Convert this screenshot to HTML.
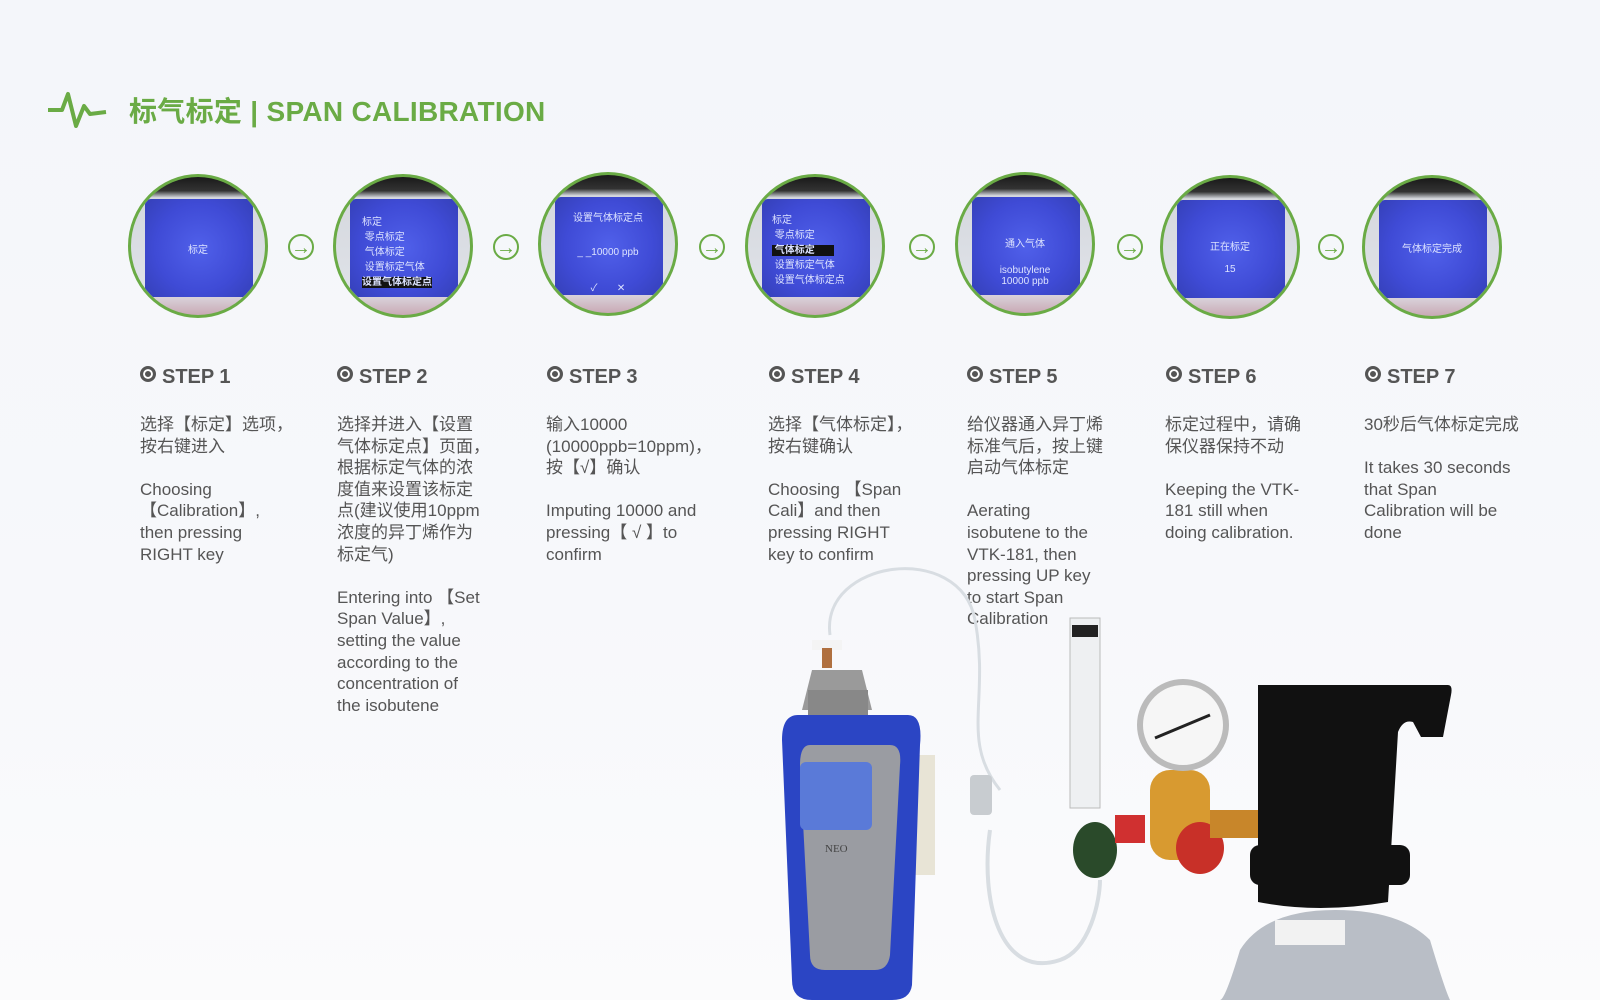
<!DOCTYPE html>
<html><head><meta charset="utf-8"><style>
body{margin:0;width:1600px;height:1000px;overflow:hidden;background:linear-gradient(180deg,#f4f6fa 0%,#f7f8fb 60%,#fbfbfc 100%);font-family:"Liberation Sans","Noto Sans CJK SC",sans-serif;position:relative}
.t{position:absolute;left:129px;top:90px;font-size:28px;font-weight:bold;color:#6aab45;letter-spacing:0.3px}
.c{position:absolute;width:140px;height:144px;border-radius:50%;border:3px solid #6aab45;background:linear-gradient(180deg,#1a1a1a 0%,#333 10%,#d5d8de 15%,#dfe2e8 82%,#c9a9b5 100%);overflow:hidden;box-sizing:border-box}
.c:before{content:"";position:absolute;left:14px;top:22px;width:108px;height:98px;border-radius:6px;background:radial-gradient(circle at 50% 50%,#5060ea 0%,#3f4bd6 60%,#3540b8 100%)}
.c span{position:absolute;left:0;right:0;text-align:center;color:#dde3ff;font-size:10px;z-index:1}
.a{position:absolute;width:26px;height:26px;border:2px solid #6aab45;border-radius:50%;color:#6aab45;font-size:20px;line-height:25px;text-align:center;box-sizing:border-box}
.s{position:absolute;top:366px;font-size:20px;font-weight:bold;color:#555}
.s:before{content:"";display:inline-block;width:10px;height:10px;border:3px solid #555;border-radius:50%;margin-right:6px;vertical-align:1px;box-shadow:inset 0 0 0 2px #fff;background:#555}
.b{position:absolute;top:414px;font-size:17px;line-height:21.6px;color:#555;width:165px}
</style></head><body>
<svg style="position:absolute;left:48px;top:90px" width="62" height="40"><polyline points="0,20 14,20 20,4 28,36 36,16 42,24 58,22" fill="none" stroke="#6aab45" stroke-width="4" stroke-linejoin="round"/></svg>
<div class="t">标气标定 | SPAN CALIBRATION</div>

<div class="c" style="left:128px;top:174px"><span style="top:64px">标定</span></div>
<div class="c" style="left:333px;top:174px"><span style="top:36px;text-align:left;left:26px">标定<br>&nbsp;零点标定<br>&nbsp;气体标定<br>&nbsp;设置标定气体<br><b style="background:#111">设置气体标定点</b></span></div>
<div class="c" style="left:538px;top:172px"><span style="top:34px">设置气体标定点</span><span style="top:72px">_ _10000 ppb</span><span style="top:104px">✓ &nbsp;&nbsp;&nbsp;&nbsp;&nbsp;&nbsp;✕</span></div>
<div class="c" style="left:745px;top:174px"><span style="top:34px;text-align:left;left:24px">标定<br>&nbsp;零点标定<br><b style="background:#111">&nbsp;气体标定&nbsp;&nbsp;&nbsp;&nbsp;&nbsp;&nbsp;&nbsp;</b><br>&nbsp;设置标定气体<br>&nbsp;设置气体标定点</span></div>
<div class="c" style="left:955px;top:172px"><span style="top:60px">通入气体</span><span style="top:90px">isobutylene<br>10000 ppb</span></div>
<div class="c" style="left:1160px;top:175px"><span style="top:60px">正在标定</span><span style="top:86px">15</span></div>
<div class="c" style="left:1362px;top:175px"><span style="top:62px">气体标定完成</span></div>

<div class="a" style="left:288px;top:234px">→</div>
<div class="a" style="left:493px;top:234px">→</div>
<div class="a" style="left:699px;top:234px">→</div>
<div class="a" style="left:909px;top:234px">→</div>
<div class="a" style="left:1117px;top:234px">→</div>
<div class="a" style="left:1318px;top:234px">→</div>

<div class="s" style="left:140px">STEP 1</div>
<div class="s" style="left:337px">STEP 2</div>
<div class="s" style="left:547px">STEP 3</div>
<div class="s" style="left:769px">STEP 4</div>
<div class="s" style="left:967px">STEP 5</div>
<div class="s" style="left:1166px">STEP 6</div>
<div class="s" style="left:1365px">STEP 7</div>

<div class="b" style="left:140px">选择【标定】选项，<br>按右键进入<br><br>Choosing<br>【Calibration】,<br>then pressing<br>RIGHT key</div>
<div class="b" style="left:337px;width:170px">选择并进入【设置<br>气体标定点】页面，<br>根据标定气体的浓<br>度值来设置该标定<br>点(建议使用10ppm<br>浓度的异丁烯作为<br>标定气)<br><br>Entering into 【Set<br>Span Value】,<br>setting the value<br>according to the<br>concentration of<br>the isobutene</div>
<div class="b" style="left:546px;width:190px">输入10000<br>(10000ppb=10ppm)，<br>按【√】确认<br><br>Imputing 10000 and<br>pressing【 √ 】to<br>confirm</div>
<div class="b" style="left:768px;width:170px">选择【气体标定】，<br>按右键确认<br><br>Choosing 【Span<br>Cali】and then<br>pressing RIGHT<br>key to confirm</div>
<div class="b" style="left:967px">给仪器通入异丁烯<br>标准气后，按上键<br>启动气体标定<br><br>Aerating<br>isobutene to the<br>VTK-181, then<br>pressing UP key<br>to start Span<br>Calibration</div>
<div class="b" style="left:1165px">标定过程中，请确<br>保仪器保持不动<br><br>Keeping the VTK-<br>181 still when<br>doing calibration.</div>
<div class="b" style="left:1364px;width:175px">30秒后气体标定完成<br><br>It takes 30 seconds<br>that Span<br>Calibration will be<br>done</div>

<svg style="position:absolute;left:0;top:0" width="1600" height="1000">
<path d="M830 635 C820 560 960 540 975 620 C990 700 960 740 1000 790" fill="none" stroke="#d8dde2" stroke-width="3"/>
<path d="M990 830 C980 900 1000 980 1060 960 C1090 950 1100 900 1100 880" fill="none" stroke="#d8dde2" stroke-width="4"/>
<rect x="910" y="755" width="25" height="120" fill="#e8e4d6"/>
<rect x="812" y="640" width="30" height="10" fill="#f4f4f4"/>
<rect x="822" y="648" width="10" height="20" fill="#b07040"/>
<path d="M812 670 h50 l10 40 h-70z" fill="#9a9a9a"/>
<rect x="808" y="690" width="60" height="30" fill="#888"/>
<path d="M798 715 h110 q15 0 12 30 l-8 240 q-2 15 -20 15 h-80 q-20 0 -20 -20 l-10 -240 q0 -25 16 -25z" fill="#2b45c4"/>
<path d="M810 745 h80 q12 0 10 20 l-10 190 q-2 15 -15 15 h-50 q-15 0 -15 -15 l-10 -190 q0 -20 10 -20z" fill="#9a9ca2"/>
<rect x="800" y="762" width="72" height="68" rx="6" fill="#5a7ad8"/>
<text x="825" y="852" font-family="Liberation Serif,serif" font-size="11" fill="#444">NEO</text>
<rect x="970" y="775" width="22" height="40" rx="4" fill="#c8ccd0"/>
<rect x="1070" y="618" width="30" height="190" fill="#eef0f2" stroke="#bbb"/>
<rect x="1072" y="625" width="26" height="12" fill="#222"/>
<ellipse cx="1095" cy="850" rx="22" ry="28" fill="#2a4a2a"/>
<rect x="1115" y="815" width="30" height="28" fill="#d03030"/>
<rect x="1150" y="770" width="60" height="90" rx="20" fill="#d89a30"/>
<ellipse cx="1200" cy="848" rx="24" ry="26" fill="#c83028"/>
<rect x="1210" y="810" width="55" height="28" fill="#c8862a"/>
<circle cx="1183" cy="725" r="46" fill="#bbb"/>
<circle cx="1183" cy="725" r="40" fill="#f6f6f6"/>
<line x1="1155" y1="738" x2="1210" y2="715" stroke="#222" stroke-width="3"/>
<path d="M1240 950 q-15 50 -20 50 h230 q-5 -10 -20 -60 q-30 -30 -95 -30 q-70 0 -95 40z" fill="#b9bec6"/>
<path d="M1258 685 h190 q5 0 3 10 l-8 42 h-22 l-8 -15 q-10 -3 -15 10 l-10 170 q-70 12 -130 0z" fill="#111"/>
<rect x="1250" y="845" width="160" height="40" rx="10" fill="#111"/>
<rect x="1275" y="920" width="70" height="25" fill="#f2f2f2"/>
</svg>
</body></html>
